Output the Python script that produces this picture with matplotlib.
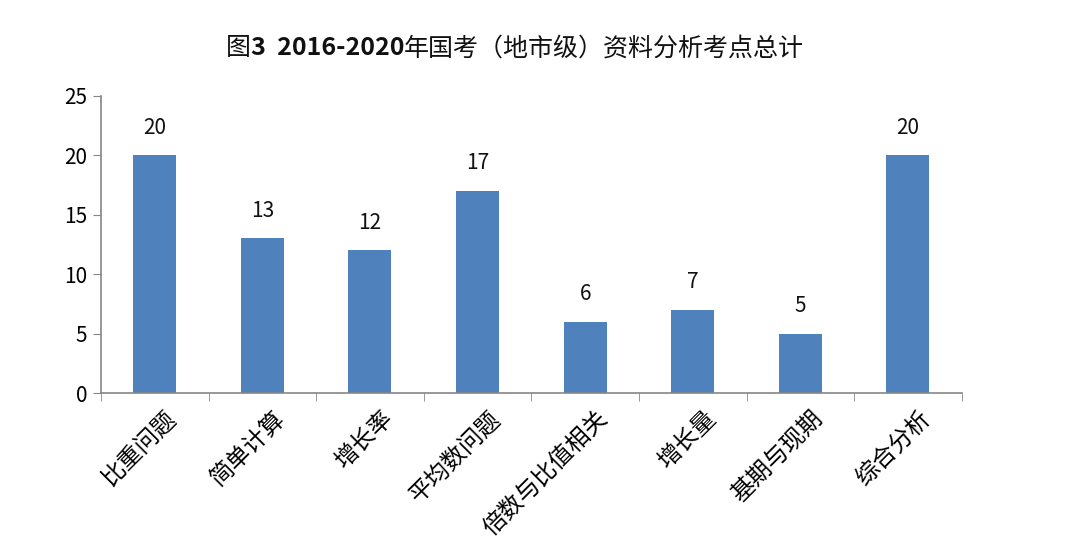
import matplotlib
matplotlib.use("Agg")
import matplotlib.pyplot as plt
import numpy as np

plt.rcParams["font.family"] = ["Noto Sans CJK SC", "DejaVu Sans"]

categories = ["比重问题", "简单计算", "增长率", "平均数问题", "倍数与比值相关", "增长量", "基期与现期", "综合分析"]
counts = [20, 13, 12, 17, 6, 7, 5, 20]
title_parts = [("图", "normal"), ("3  2016-2020", "bold"), ("年国考（地市级）资料分析考点总计", "normal")]

bar_color = "#4F81BD"
axis_color = "#868686"

fig = plt.figure(figsize=(10.8, 5.53), dpi=100)
ax = fig.add_axes([0.0935, 0.289, 0.797, 0.538])

x = np.arange(len(categories))
ax.bar(x, counts, width=0.4, color=bar_color)
for xi, v in zip(x, counts):
    ax.text(xi, v + 1.4, str(v), ha="center", va="bottom", fontsize=15, color="#111111")

ax.set_xlim(-0.5, len(categories) - 0.5)
ax.set_ylim(0, 25)
ax.set_yticks(np.arange(0, 26, 5))
ax.tick_params(axis="y", direction="out", length=6, color=axis_color, labelsize=15, pad=4)

ax.set_xticks(x + 0.1)
ax.set_xticklabels(categories, rotation=45, ha="right", rotation_mode="anchor", fontsize=17)
ax.tick_params(axis="x", which="major", length=0, pad=10)
ax.set_xticks(np.arange(-0.5, len(categories) + 0.5, 1), minor=True)
ax.tick_params(axis="x", which="minor", direction="out", length=6, color=axis_color)

for side in ["top", "right"]:
    ax.spines[side].set_visible(False)
for side in ["left", "bottom"]:
    ax.spines[side].set_color(axis_color)
    ax.spines[side].set_linewidth(1.2)

# title: mixed weights, laid out piece by piece and centred
fig.canvas.draw()
renderer = fig.canvas.get_renderer()
pieces = []
for txt, w in title_parts:
    t = fig.text(0, 0.913, txt, ha="left", va="center", fontsize=18, fontweight=w, color="#111111")
    pieces.append(t)
widths = [p.get_window_extent(renderer).width for p in pieces]
total = sum(widths)
start = 515 - total / 2
for p, w in zip(pieces, widths):
    p.set_x(start / fig.bbox.width)
    start += w

fig.savefig("out.png", dpi=100)
